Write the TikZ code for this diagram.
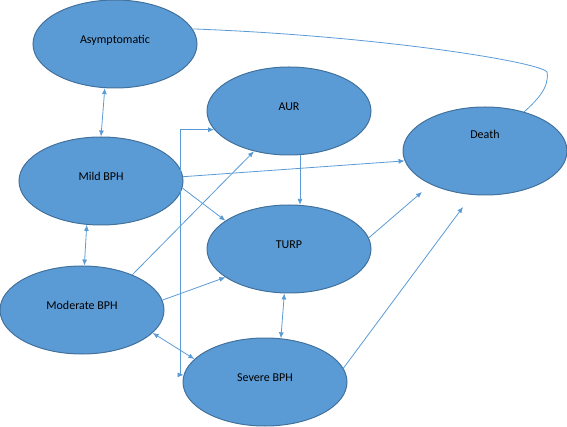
\documentclass[tikz,border=0pt]{standalone}
\usepackage{fontspec}
\setmainfont{Carlito}
\usepackage{tikz}
\usetikzlibrary{arrows.meta,shapes.geometric}
\definecolor{ofblue}{RGB}{91,155,213}
\definecolor{ofedge}{RGB}{65,113,156}
\tikzset{stage/.style={ellipse,draw=ofedge,fill=ofblue,line width=1pt,minimum width=164pt,minimum height=88pt,inner sep=0pt,text height=8.5pt,text depth=10pt,font=\fontsize{12}{14}\selectfont},
move/.style={-{Latex[length=6pt,width=5pt]},draw=ofblue,line width=0.8pt},
twoway/.style={{Latex[length=6pt,width=5pt]}-{Latex[length=6pt,width=5pt]},draw=ofblue,line width=0.8pt}}

\begin{document}
\begin{tikzpicture}[x=1pt,y=-1pt]
\useasboundingbox (0,0) rectangle (567,427);
\node[stage] (asym) at (115,44) {Asymptomatic};
\node[stage] (mild) at (101,181) {Mild BPH};
\node[stage] (mod) at (82,310) {Moderate BPH};
\node[stage] (aur) at (289,111) {AUR};
\node[stage] (turp) at (289,249) {TURP};
\node[stage] (sev) at (265,382) {Severe BPH};
\node[stage,label={[yshift=17pt,font=\fontsize{12}{14}\selectfont]center:Death}] (death) at (485,151) {};
\coordinate (d1) at (422,192);
\coordinate (d2) at (463,207);
% two-way moves
\draw[twoway] (asym.-103) -- (mild.90);
\draw[twoway] (mild.-108) -- (mod.87);
\draw[twoway] (turp.-96) -- (sev.70);
\draw[twoway] (mod.-18) -- (sev.162);
\draw[twoway] (aur.194) -- ++(-34,0) |- (sev.175);
% one-way moves
\draw[move] (aur.-76) -- (turp.76);
\draw[move] (mild.3) -- (death.187);
\draw[move] (mild.-5) -- (turp.156);
\draw[move] (mod.35) -- (aur.-131);
\draw[move] (mod.7) -- (turp.204);
\draw[move] (turp.8) -- (d1);
\draw[move] (sev.10) -- (d2);
\draw[ofblue,line width=0.8pt] (asym.11) .. controls (380,36) and (540,62) .. (547,72) .. controls (550,88) and (535,102) .. (death.45);
\end{tikzpicture}
\end{document}
